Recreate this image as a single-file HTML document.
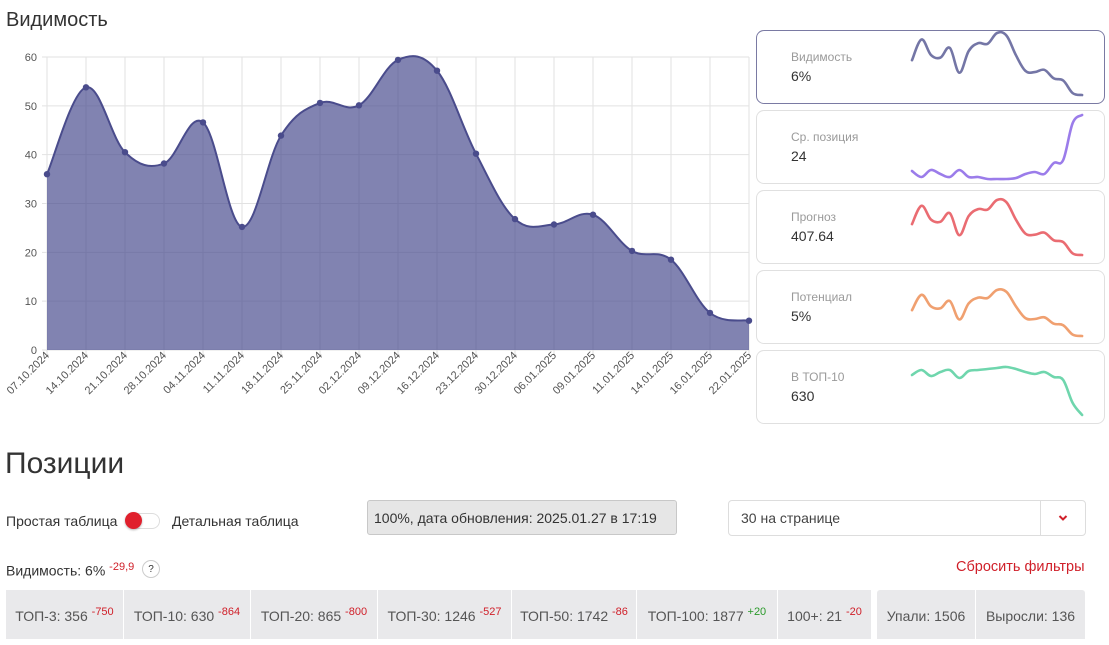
<!DOCTYPE html>
<html><head><meta charset="utf-8"><style>
body{margin:0;width:1109px;height:645px;background:#fff;font-family:"Liberation Sans","DejaVu Sans",sans-serif;color:#333;position:relative;overflow:hidden}
.a{position:absolute;white-space:nowrap}
.card{position:absolute;left:756px;width:349px;height:74px;border:1px solid #e0e0e0;border-radius:8px;box-sizing:border-box}
.card .l{position:absolute;left:34px;top:19px;font-size:12px;color:#9a9a9a}
.card .v{position:absolute;left:34px;top:37px;font-size:14px;color:#333}
.cell{position:absolute;top:590px;height:49px;background:#e9e9eb;font-size:14px;color:#555;line-height:52px;box-sizing:border-box;text-align:center}
.cell sup{color:#d0202a;font-size:11px;vertical-align:0;position:relative;top:-6px}
</style></head><body>
<div class="a" style="left:6px;top:9px;font-size:20px;color:#333">Видимость</div>
<svg id="ch" class="a" style="left:0;top:0" width="760" height="430"></svg>

<div class="card" style="top:30px;border-color:#7a7aa3"><div class="l">Видимость</div><div class="v">6%</div></div>
<div class="card" style="top:110px"><div class="l">Ср. позиция</div><div class="v">24</div></div>
<div class="card" style="top:190px"><div class="l">Прогноз</div><div class="v">407.64</div></div>
<div class="card" style="top:270px"><div class="l">Потенциал</div><div class="v">5%</div></div>
<div class="card" style="top:350px"><div class="l">В ТОП-10</div><div class="v">630</div></div>
<svg id="sp" class="a" style="left:0;top:0" width="1109" height="430"></svg>

<div class="a" style="left:5px;top:447px;font-size:30px;color:#333">Позиции</div>
<div class="a" style="left:6px;top:513px;font-size:14px">Простая таблица</div>
<div class="a" style="left:126px;top:513px;width:34px;height:16px;border:1px solid #ddd;border-radius:9px;box-sizing:border-box"></div>
<div class="a" style="left:125px;top:512px;width:17px;height:17px;border-radius:50%;background:#e0202d;box-shadow:0 1px 2px rgba(0,0,0,.3)"></div>
<div class="a" style="left:172px;top:513px;font-size:14px">Детальная таблица</div>
<div class="a" style="left:367px;top:500px;width:310px;height:35px;background:#e6e6e6;border:1px solid #c8c8c8;border-radius:3px;box-sizing:border-box;font-size:14px;line-height:34px;padding-left:6px;color:#333">100%, дата обновления: 2025.01.27 в 17:19</div>
<div class="a" style="left:728px;top:500px;width:358px;height:36px;border:1px solid #ddd;border-radius:4px;box-sizing:border-box;font-size:14px;line-height:35px;padding-left:12px;color:#444">30 на странице
<div style="position:absolute;right:0;top:0;width:44px;height:34px;border-left:1px solid #ddd"><svg width="44" height="34"><path d="M18.5,15 L22,18.5 L25.5,15" fill="none" stroke="#d0202a" stroke-width="2"/></svg></div></div>
<div class="a" style="left:6px;top:561px;font-size:14px">Видимость: 6% <sup style="color:#d0202a;font-size:11px">-29,9</sup></div>
<div class="a" style="left:142px;top:560px;width:18px;height:18px;border:1px solid #ccc;border-radius:50%;box-sizing:border-box;font-size:10px;text-align:center;line-height:17px">?</div>
<div class="a" style="left:956px;top:559px;font-size:14.5px;color:#d0202a">Сбросить фильтры</div>

<div class="cell" style="left:6px;width:117px">ТОП-3: 356 <sup>-750</sup></div>
<div class="cell" style="left:124px;width:126px">ТОП-10: 630 <sup>-864</sup></div>
<div class="cell" style="left:251px;width:126px">ТОП-20: 865 <sup>-800</sup></div>
<div class="cell" style="left:378px;width:133px">ТОП-30: 1246 <sup>-527</sup></div>
<div class="cell" style="left:512px;width:124px">ТОП-50: 1742 <sup>-86</sup></div>
<div class="cell" style="left:637px;width:140px">ТОП-100: 1877 <sup style="color:#2a9a2a">+20</sup></div>
<div class="cell" style="left:778px;width:93px">100+: 21 <sup>-20</sup></div>
<div class="cell" style="left:877px;width:98px;border-radius:3px 0 0 0">Упали: 1506</div>
<div class="cell" style="left:976px;width:109px;border-radius:0 3px 0 0">Выросли: 136</div>

<script>
function smooth(p,t){t=t||0.4;var d="M"+p[0][0]+","+p[0][1];
for(var i=0;i<p.length-1;i++){var p0=p[i-1]||p[i],p1=p[i],p2=p[i+1],p3=p[i+2]||p2;
var c1x=p1[0]+(p2[0]-p0[0])*t/2,c1y=p1[1]+(p2[1]-p0[1])*t/2,c2x=p2[0]-(p3[0]-p1[0])*t/2,c2y=p2[1]-(p3[1]-p1[1])*t/2;
d+=" C"+c1x.toFixed(1)+","+c1y.toFixed(1)+" "+c2x.toFixed(1)+","+c2y.toFixed(1)+" "+p2[0]+","+p2[1];}return d;}
var v=[36,53.8,40.5,38.2,46.6,25.2,43.9,50.6,50.1,59.4,57.2,40.2,26.8,25.7,27.7,20.3,18.5,7.6,6];
var labels=["07.10.2024","14.10.2024","21.10.2024","28.10.2024","04.11.2024","11.11.2024","18.11.2024","25.11.2024","02.12.2024","09.12.2024","16.12.2024","23.12.2024","30.12.2024","06.01.2025","09.01.2025","11.01.2025","14.01.2025","16.01.2025","22.01.2025"];
var x0=47,st=39,y0=350,sc=293/60,s="";
for(var k=0;k<=6;k++){var y=y0-k*10*sc;s+='<line x1="42" x2="749" y1="'+y+'" y2="'+y+'" stroke="#e2e2e2"/><text x="37" y="'+(y+4)+'" font-size="11" fill="#555" text-anchor="end" font-family="Liberation Sans">'+k*10+'</text>';}
var pts=[];for(var i=0;i<v.length;i++){var x=x0+i*st;pts.push([x,+(y0-v[i]*sc).toFixed(1)]);
s+='<line x1="'+x+'" x2="'+x+'" y1="57" y2="355" stroke="#e2e2e2"/>';
s+='<text transform="translate('+(x+3)+',356) rotate(-45)" font-size="11" fill="#555" text-anchor="end" font-family="Liberation Sans">'+labels[i]+'</text>';}
var d=smooth(pts,0.36);
s+='<path d="'+d+' L749,350 L47,350 Z" fill="rgba(70,72,140,0.68)"/>';
s+='<path d="'+d+'" fill="none" stroke="#4a4c8c" stroke-width="2"/>';
pts.forEach(function(p){s+='<circle cx="'+p[0]+'" cy="'+p[1]+'" r="3.2" fill="#4a4c8c"/>';});
document.getElementById("ch").innerHTML=s;
function sp(arr,col){var p=arr.map(function(y,i){return[+(912+i*9.45).toFixed(1),y];});return '<path d="'+smooth(p,0.36)+'" fill="none" stroke="'+col+'" stroke-width="2.6" stroke-linecap="round"/>';}
function fromV(top,bot){return v.map(function(a){return +(top+(59.4-a)*(bot-top)/53.4).toFixed(1);});}
var s2="";
s2+=sp(fromV(33,95),"#7476a6");
s2+=sp([171,177,170,174,177,170,177,177,179,179,179,178,174,172,174,163,160,123,115],"#9b7cea");
s2+=sp(fromV(200,255),"#ea6c72");
s2+=sp(fromV(290,336),"#f0a070");
s2+=sp([375,370,376,372,370,378,371,370,369,368,367,369,372,374,372,377,380,403,415],"#6fd6ad");
document.getElementById("sp").innerHTML=s2;
</script>
</body></html>
